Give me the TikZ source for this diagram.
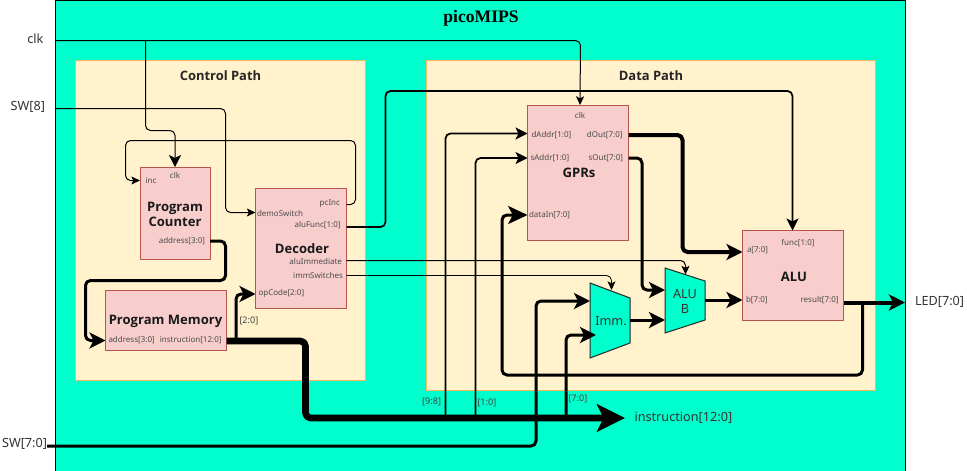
\documentclass[tikz,border=0pt]{standalone}
\usepackage{fontspec}
\setmainfont{Noto Sans}
\newfontfamily\titlefont{Liberation Serif}
\newfontfamily\headfont{Open Sans}
\usetikzlibrary{arrows.meta,shapes.geometric}
\definecolor{teal1}{HTML}{00FFCC}
\definecolor{pathfill}{HTML}{FFF2CC}
\definecolor{pathline}{HTML}{F0B860}
\definecolor{blockfill}{HTML}{F8CECC}
\definecolor{blockline}{HTML}{B85450}
\definecolor{lbl}{HTML}{4A4A4A}
\tikzset{
  x=0.75pt,y=-0.75pt,
  outerbox/.style={draw=black,line width=0.75pt,fill=teal1,inner sep=0pt,outer sep=0pt},
  pathbox/.style={draw=pathline,line width=0.75pt,fill=pathfill,inner sep=0pt,outer sep=0pt},
  block/.style={draw=blockline,line width=0.75pt,fill=blockfill,inner sep=0pt,outer sep=0pt},
  blocktext/.style={inner sep=0pt,outer sep=0pt,align=center,font=\headfont\bfseries\fontsize{9.8}{11.4}\selectfont,text=black!90},
  pathtitle/.style={inner sep=0pt,text=black!85,font=\headfont\bfseries\fontsize{9.7}{11}\selectfont},
  port/.style={inner sep=0pt,outer sep=0pt,text=lbl,font=\fontsize{6}{7}\selectfont},
  ext/.style={inner sep=0pt,outer sep=0pt,text=black!80,font=\fontsize{9.5}{11}\selectfont},
  slice/.style={inner sep=0pt,outer sep=0pt,text=black!75,font=\fontsize{6.8}{8}\selectfont},
  mux/.style={draw=black!85,line width=0.75pt,fill=teal1},
  wire/.style={rounded corners=3.75pt,line join=round,draw=black},
  w1/.style={wire,line width=0.75pt},
  w2/.style={wire,line width=1.3pt},
  w3/.style={wire,line width=2.25pt},
  w4/.style={wire,line width=3pt},
  w6/.style={wire,line width=5pt},
  tipA/.style={-{Stealth[length=6.5pt,width=6pt,inset=1.5pt]}},
  tipB/.style={-{Stealth[length=9pt,width=9pt,inset=2.2pt]}},
  tipC/.style={-{Stealth[length=12pt,width=12pt,inset=3pt]}},
  tipD/.style={-{Stealth[length=14.5pt,width=13.5pt,inset=3.5pt]}},
  tipE/.style={-{Stealth[length=21pt,width=20.5pt,inset=5pt]}},
}
\begin{document}
\begin{tikzpicture}
\useasboundingbox (0,0) rectangle (967,471);
\fill[white] (0,0) rectangle (967,471);
% containers
\node[outerbox,minimum width=637.5pt,minimum height=353.25pt,anchor=north west] (chip) at (55.5,0) {};
\node[pathbox,minimum width=217.5pt,minimum height=240pt,anchor=north west] (ctrl) at (75.5,60.5) {};
\node[pathbox,minimum width=336.75pt,minimum height=247.5pt,anchor=north west] (data) at (426,60.5) {};
\node[inner sep=0pt,text=black,font=\titlefont\bfseries\fontsize{13.2}{15}\selectfont] (title) at (481,18) {picoMIPS};
\node[pathtitle] (ctrlT) at (220.5,75.5) {Control Path};
\node[pathtitle] (dataT) at (651,75.5) {Data Path};
% blocks
\node[block,minimum width=52.5pt,minimum height=69pt,anchor=north west] (pc) at (140,167) {};
\node[blocktext] (pcT) at (175,214.5) {Program\\Counter};
\node[block,minimum width=68.25pt,minimum height=90pt,anchor=north west] (dec) at (255.5,188) {};
\node[blocktext] (decT) at (302,249) {Decoder};
\node[block,minimum width=90.75pt,minimum height=45pt,anchor=north west] (pm) at (105.5,290.5) {};
\node[blocktext] (pmT) at (165.5,321.5) {Program Memory};
\node[block,minimum width=75.75pt,minimum height=101.25pt,anchor=north west] (gpr) at (527.5,105) {};
\node[blocktext] (gprT) at (579,173) {GPRs};
\node[block,minimum width=75.75pt,minimum height=67.5pt,anchor=north west] (alu) at (742.5,230.5) {};
\node[blocktext] (aluT) at (794,277) {ALU};
% ports
\node[port,anchor=west] (pInc) at (145.5,181) {inc};
\node[port] (pClk) at (175,175) {clk};
\node[port,anchor=east] (pAddr) at (205,241) {address[3:0]};
\node[port,anchor=east] (pPcInc) at (340,203.5) {pcInc};
\node[port,anchor=west] (pDemo) at (257,213.5) {demoSwitch};
\node[port,anchor=east] (pFunc) at (340.5,225) {aluFunc[1:0]};
\node[port,anchor=east] (pImmd) at (342,261) {aluImmediate};
\node[port,anchor=east] (pSw) at (343,275) {immSwitches};
\node[port,anchor=west] (pOp) at (258.5,293.5) {opCode[2:0]};
\node[port,anchor=west] (pmA) at (108.5,340) {address[3:0]};
\node[port,anchor=east] (pmI) at (221.5,340) {instruction[12:0]};
\node[port] (gClk) at (580,115.5) {clk};
\node[port,anchor=west] (gD) at (531.5,135) {dAddr[1:0]};
\node[port,anchor=west] (gS) at (530.5,158) {sAddr[1:0]};
\node[port,anchor=west] (gIn) at (529,215) {dataIn[7:0]};
\node[port,anchor=east] (gDo) at (622.5,135) {dOut[7:0]};
\node[port,anchor=east] (gSo) at (623,158) {sOut[7:0]};
\node[port,anchor=west] (aA) at (747,250.5) {a[7:0]};
\node[port,anchor=west] (aB) at (746,300) {b[7:0]};
\node[port] (aF) at (798,243) {func[1:0]};
\node[port,anchor=east] (aR) at (838.5,300.5) {result[7:0]};
% muxes
\path[mux] (590,283) coordinate (immTL) -- (630,298) coordinate (immTR) -- (630,343) coordinate (immBR) -- (590,358) coordinate (immBL) -- cycle;
\path[mux] (665,268) coordinate (abTL) -- (705,281) coordinate (abTR) -- (705,320) coordinate (abBR) -- (665,333) coordinate (abBL) -- cycle;
\node[inner sep=0pt,text=black!80,font=\fontsize{9.5}{11}\selectfont] (immT) at (611,321) {Imm.};
\node[inner sep=0pt,text=black!80,align=center,font=\fontsize{9.5}{11.25}\selectfont] (abT) at (685,301.5) {ALU\\B};
% external texts and anchors
\node[ext,anchor=east] (clk) at (43.5,38.5) {clk};
\node[ext,anchor=east] (sw8) at (45,106.5) {SW[8]};
\node[ext,anchor=east] (sw7) at (47,443.5) {SW[7:0]};
\node[ext,anchor=west] (led) at (915,302) {LED[7:0]};
\node[ext,anchor=west] (ins) at (634.5,418) {instruction[12:0]};
\coordinate (clkS) at (55.5,40.5);
\coordinate (sw8S) at (55.5,108.5);
\coordinate (sw7S) at (47,446);
\coordinate (ledE) at (905,302.5);
\coordinate (insE) at (625,418);
% connectors
\draw[w1,tipA] (clkS) -- (580.5,40.5) -- (gpr.north -| gClk);
\draw[w1,tipB] (145.5,40.5) -- (145.5,130.5) -- (175,130.5) -- (pc.north -| pClk);
\draw[w1,tipA] (sw8S) -- (225.5,108.5) -- (225.5,212.5) -- (dec.west |- 0,212.5);
\draw[w1,tipA] (dec.east |- 0,204.5) -- (355.5,204.5) -- (355.5,140.5) -- (125.5,140.5) -- (125.5,180.5) -- (pc.west |- 0,180.5);
\draw[w3,tipC] (pc.east |- pAddr) -- (225.5,241) -- (225.5,280.5) -- (85.5,280.5) -- (85.5,340.5) -- (pm.west |- 0,340.5);
\draw[w3,tipC] (236,341) -- (236,294) -- (dec.west |- 0,294);
\draw[w6,tipE] (pm.east |- 0,341) -- (305.5,341) -- (305.5,418) -- (insE);
\draw[w2,tipB] (dec.east |- 0,227) -- (385.5,227) -- (385.5,91) -- (792.5,91) -- (alu.north -| 792.5,0);
\draw[w1,tipA] (dec.east |- 0,260.5) -- (685.5,260.5) -- (685.5,274.5);
\draw[w1,line width=0.6pt,tipA] (dec.east |- 0,275.5) -- (611.5,275.5) -- (611.5,290);
\draw[w2,tipB] (445.5,418) -- (445.5,133.5) -- (gpr.west |- 0,133.5);
\draw[w2,tipB] (475.5,418) -- (475.5,158) -- (gpr.west |- 0,158);
\draw[w3,tipC] (566,418) -- (566,335) -- (596,335);
\draw[w3,tipC] (sw7S) -- (536,446) -- (536,301) -- (590,301);
\draw[w4,tipC] (gpr.east |- 0,135) -- (682.5,135) -- (682.5,252) -- (alu.west |- 0,252);
\draw[w3,tipC] (gpr.east |- 0,158) -- (642,158) -- (642,290) -- (665,290);
\draw[w3,tipC] (705,300) -- (alu.west |- 0,300);
\draw[w3,tipC] (630,320) -- (665,320);
\draw[w4,tipC] (alu.east |- 0,302.5) -- (ledE);
\draw[w3,tipD] (862.5,302.5) -- (862.5,375) -- (502,375) -- (502,215) -- (gpr.west |- 0,215);
% bit-slice labels
\node[slice,anchor=west] (s20) at (239.5,321) {[2:0]};
\node[slice,anchor=east] (s98) at (441,402) {[9:8]};
\node[slice,anchor=west] (s10) at (477.5,402.5) {[1:0]};
\node[slice,anchor=west] (s70) at (568.5,398.5) {[7:0]};
\end{tikzpicture}
\end{document}
